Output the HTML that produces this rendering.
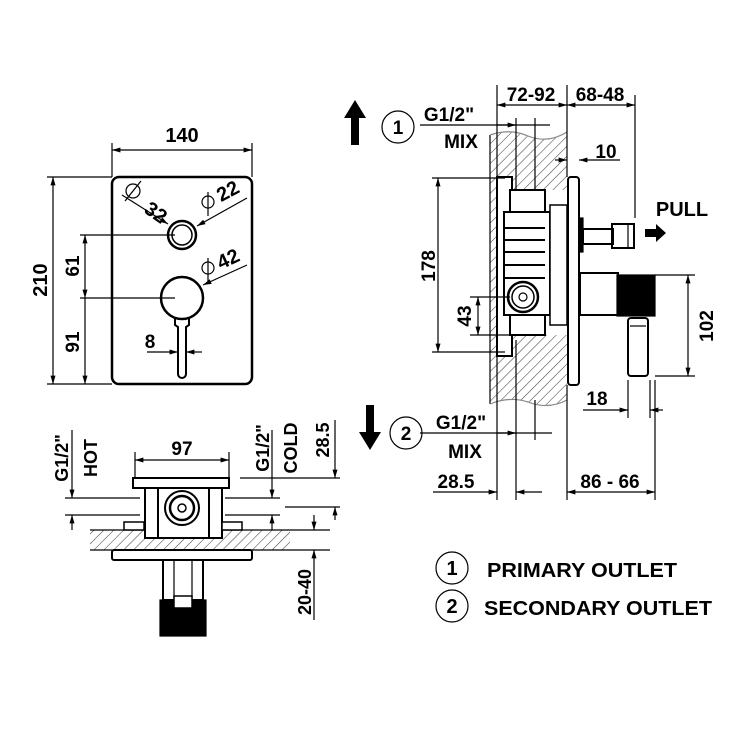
<!DOCTYPE html>
<html><head><meta charset="utf-8"><style>
html,body{margin:0;padding:0;background:#fff}
svg{display:block}
text{font-family:"Liberation Sans",Arial,sans-serif;font-weight:bold;fill:#000}
</style></head><body>
<svg width="750" height="750" viewBox="0 0 750 750" xmlns="http://www.w3.org/2000/svg">
<defs>
<pattern id="h" width="7" height="7" patternUnits="userSpaceOnUse" patternTransform="rotate(45)">
<line x1="0" y1="0" x2="0" y2="7" stroke="#444" stroke-width="1.1"/></pattern>
<marker id="a" viewBox="0 0 10 10" refX="10" refY="5" markerWidth="9" markerHeight="7" orient="auto-start-reverse"><path d="M0,2 L10,5 L0,8 z" fill="#000"/></marker>
</defs>
<g stroke="#000" fill="none" stroke-width="1.2">
<!-- FRONT VIEW -->
<rect x="112" y="177" width="140" height="207" rx="7" stroke-width="2.5"/>
<line x1="112" y1="143" x2="112" y2="177"/><line x1="252" y1="143" x2="252" y2="177"/>
<line x1="112" y1="150" x2="252" y2="150" marker-start="url(#a)" marker-end="url(#a)"/>
<line x1="47" y1="177" x2="112" y2="177"/><line x1="47" y1="384" x2="112" y2="384"/>
<line x1="53" y1="177" x2="53" y2="384" marker-start="url(#a)" marker-end="url(#a)"/>
<line x1="80" y1="235" x2="175" y2="235"/><line x1="80" y1="298" x2="175" y2="298"/>
<line x1="85" y1="235" x2="85" y2="298" marker-start="url(#a)" marker-end="url(#a)"/>
<line x1="85" y1="298" x2="85" y2="384" marker-end="url(#a)"/>
<circle cx="182" cy="235" r="14" stroke-width="2.5"/><circle cx="182" cy="235" r="10" stroke-width="1.5"/>
<circle cx="182" cy="298" r="21" stroke-width="2.5"/>
<path d="M175,318 L175,325 L178,327 L178,374 A4,4 0 0 0 186,374 L186,327 L189,325 L189,318" stroke-width="2"/>
<line x1="147" y1="352" x2="178" y2="352" marker-end="url(#a)"/><line x1="202" y1="352" x2="186" y2="352" marker-end="url(#a)"/>
<circle cx="133" cy="191" r="7"/><line x1="125" y1="201" x2="141" y2="181"/>
<line x1="122" y1="195" x2="168" y2="224" marker-end="url(#a)"/>
<circle cx="208" cy="202" r="6"/><line x1="208" y1="192" x2="208" y2="216"/>
<line x1="247" y1="198" x2="197" y2="226" marker-end="url(#a)"/>
<circle cx="208" cy="268" r="6"/><line x1="208" y1="258" x2="208" y2="282"/>
<line x1="247" y1="265" x2="203" y2="285" marker-end="url(#a)"/>
</g>
<text x="182" y="142" font-size="20" text-anchor="middle">140</text>
<text transform="translate(47,280) rotate(-90)" font-size="20" text-anchor="middle">210</text>
<text transform="translate(79,266) rotate(-90)" font-size="19" text-anchor="middle">61</text>
<text transform="translate(79,342) rotate(-90)" font-size="19" text-anchor="middle">91</text>
<text x="150" y="348" font-size="19" text-anchor="middle">8</text>
<text transform="translate(152,218) rotate(35)" font-size="20" text-anchor="middle">32</text>
<text transform="translate(231,197) rotate(-28)" font-size="20" text-anchor="middle">22</text>
<text transform="translate(231,265) rotate(-25)" font-size="20" text-anchor="middle">42</text>

<!-- BOTTOM VIEW -->
<rect x="90" y="530" width="200" height="20" fill="url(#h)"/>
<g stroke="#000" fill="none" stroke-width="1.2">
<line x1="90" y1="530" x2="290" y2="530"/><line x1="90" y1="550" x2="290" y2="550"/>
<rect x="145" y="488" width="77" height="50" fill="#fff" stroke-width="2"/>
<line x1="158" y1="488" x2="158" y2="538" stroke-width="2"/><line x1="209" y1="488" x2="209" y2="538" stroke-width="2"/>
<rect x="133" y="478" width="96" height="10" fill="#fff" stroke-width="2"/>
<rect x="124" y="522" width="20" height="8" fill="#fff" stroke-width="1.5"/>
<rect x="222" y="522" width="20" height="8" fill="#fff" stroke-width="1.5"/>
<circle cx="182" cy="508" r="17" fill="#fff" stroke-width="2"/><circle cx="182" cy="508" r="12" stroke-width="2.5"/><circle cx="182" cy="508" r="4" stroke-width="1.5"/>
<rect x="112" y="550" width="140" height="10" rx="2" fill="#fff" stroke-width="2"/>
<rect x="163" y="560" width="40" height="40" stroke-width="2"/>
<line x1="174" y1="560" x2="174" y2="598"/><line x1="192" y1="560" x2="192" y2="598"/>
<rect x="160" y="600" width="46" height="36" fill="#000"/>
<rect x="174" y="596" width="18" height="12" fill="#fff" stroke-width="1.5"/>
<line x1="135" y1="460" x2="229" y2="460" marker-start="url(#a)" marker-end="url(#a)"/>
<line x1="135" y1="452" x2="135" y2="478"/><line x1="229" y1="452" x2="229" y2="478"/>
<line x1="65" y1="498" x2="140" y2="498"/><line x1="65" y1="515" x2="140" y2="515"/>
<line x1="72" y1="430" x2="72" y2="498" marker-end="url(#a)"/><line x1="72" y1="530" x2="72" y2="515" marker-end="url(#a)"/>
<line x1="225" y1="498" x2="280" y2="498"/><line x1="225" y1="515" x2="280" y2="515"/>
<line x1="272" y1="430" x2="272" y2="498" marker-end="url(#a)"/><line x1="272" y1="530" x2="272" y2="515" marker-end="url(#a)"/>
<line x1="240" y1="478" x2="340" y2="478"/><line x1="285" y1="507" x2="340" y2="507"/>
<line x1="335" y1="420" x2="335" y2="478" marker-end="url(#a)"/><line x1="335" y1="520" x2="335" y2="507" marker-end="url(#a)"/>
<line x1="290" y1="530" x2="330" y2="530"/><line x1="290" y1="550" x2="330" y2="550"/>
<line x1="314" y1="515" x2="314" y2="530" marker-end="url(#a)"/><line x1="314" y1="620" x2="314" y2="550" marker-end="url(#a)"/>
</g>
<text x="182" y="455" font-size="19" text-anchor="middle">97</text>
<text transform="translate(68,458) rotate(-90)" font-size="18" text-anchor="middle">G1/2"</text>
<text transform="translate(97,458) rotate(-90)" font-size="18" text-anchor="middle">HOT</text>
<text transform="translate(269,448) rotate(-90)" font-size="18" text-anchor="middle">G1/2"</text>
<text transform="translate(297,448) rotate(-90)" font-size="18" text-anchor="middle">COLD</text>
<text transform="translate(329,440) rotate(-90)" font-size="18" text-anchor="middle">28.5</text>
<text transform="translate(311,592) rotate(-90)" font-size="18" text-anchor="middle">20-40</text>

<!-- SIDE VIEW -->
<path d="M490,135 Q510,128 528,136 Q548,144 567,132 L567,400 Q548,410 528,402 Q510,396 490,404 Z" fill="url(#h)" stroke="none"/>
<g stroke="#000" fill="none" stroke-width="1.2">
<line x1="490" y1="135" x2="490" y2="404"/>
<path d="M490,135 Q510,128 528,136 Q548,144 567,132" stroke="#888"/>
<path d="M490,404 Q510,396 528,402 Q548,410 567,400" stroke="#888"/>
<rect x="497" y="190" width="70" height="145" fill="#fff" stroke="none"/>
<rect x="497" y="177" width="15" height="179" fill="#fff" stroke-width="2"/>
<rect x="510" y="190" width="35" height="22" fill="#fff" stroke-width="2"/>
<rect x="510" y="315" width="35" height="20" fill="#fff" stroke-width="2"/>
<rect x="504" y="212" width="46" height="103" fill="#fff" stroke-width="2"/>
<line x1="504" y1="228" x2="545" y2="228" stroke-width="2"/><line x1="504" y1="240" x2="545" y2="240" stroke-width="2"/>
<line x1="504" y1="252" x2="545" y2="252" stroke-width="2"/><line x1="504" y1="265" x2="545" y2="265" stroke-width="2"/>
<line x1="504" y1="278" x2="545" y2="278" stroke-width="2"/>
<rect x="550" y="205" width="17" height="120" fill="#fff" stroke-width="1.5"/>
<circle cx="523" cy="297" r="15" stroke-width="2.5"/><circle cx="523" cy="297" r="11" stroke-width="1.5"/><circle cx="523" cy="297" r="4"/>
<rect x="568" y="177" width="11" height="208" rx="3" fill="#fff" stroke-width="2"/>
<rect x="579" y="218" width="4" height="34" fill="#000"/>
<rect x="583" y="229" width="30" height="15" stroke-width="2"/>
<rect x="612" y="224" width="22" height="24" stroke-width="2"/><line x1="628" y1="224" x2="628" y2="248"/>
<rect x="580" y="273" width="38" height="42" stroke-width="2"/>
<rect x="617" y="275" width="38" height="41" fill="#000"/>
<rect x="628" y="318" width="20" height="58" rx="3" stroke-width="2"/><line x1="630" y1="326" x2="646" y2="326"/>
<line x1="497" y1="85" x2="497" y2="177"/><line x1="567" y1="85" x2="567" y2="177"/><line x1="635" y1="95" x2="635" y2="218"/>
<line x1="497" y1="105" x2="567" y2="105" marker-start="url(#a)" marker-end="url(#a)"/>
<line x1="567" y1="105" x2="635" y2="105" marker-start="url(#a)" marker-end="url(#a)"/>
<line x1="420" y1="125" x2="550" y2="125"/>
<line x1="516" y1="118" x2="516" y2="190"/><line x1="535" y1="118" x2="535" y2="190"/>
<line x1="497" y1="125" x2="516" y2="125" marker-end="url(#a)"/>
<line x1="555" y1="160" x2="567" y2="160" marker-end="url(#a)"/><line x1="620" y1="160" x2="579" y2="160" marker-end="url(#a)"/>
<line x1="432" y1="178" x2="505" y2="178"/><line x1="432" y1="352" x2="505" y2="352"/>
<line x1="438" y1="178" x2="438" y2="352" marker-start="url(#a)" marker-end="url(#a)"/>
<line x1="470" y1="297" x2="510" y2="297"/><line x1="470" y1="335" x2="510" y2="335"/>
<line x1="478" y1="297" x2="478" y2="335" marker-start="url(#a)" marker-end="url(#a)"/>
<line x1="655" y1="275" x2="695" y2="275"/><line x1="655" y1="376" x2="695" y2="376"/>
<line x1="688" y1="275" x2="688" y2="376" marker-start="url(#a)" marker-end="url(#a)"/>
<line x1="628" y1="380" x2="628" y2="418"/><line x1="650" y1="380" x2="650" y2="418"/>
<line x1="583" y1="410" x2="628" y2="410" marker-end="url(#a)"/><line x1="663" y1="410" x2="650" y2="410" marker-end="url(#a)"/>
<line x1="420" y1="433" x2="552" y2="433"/>
<line x1="516" y1="340" x2="516" y2="500"/><line x1="535" y1="400" x2="535" y2="440"/><line x1="497" y1="355" x2="497" y2="500"/>
<line x1="497" y1="433" x2="516" y2="433" marker-end="url(#a)"/>
<line x1="433" y1="492" x2="497" y2="492" marker-end="url(#a)"/><line x1="542" y1="492" x2="516" y2="492" marker-end="url(#a)"/>
<line x1="567" y1="385" x2="567" y2="500"/><line x1="655" y1="380" x2="655" y2="500"/>
<line x1="567" y1="492" x2="655" y2="492" marker-start="url(#a)" marker-end="url(#a)"/>
<circle cx="398" cy="127" r="16"/><circle cx="406" cy="433" r="16"/>
<circle cx="452" cy="568" r="16"/><circle cx="452" cy="606" r="16"/>
</g>
<path d="M355,100 L344,118 L351,118 L351,145 L359,145 L359,118 L366,118 Z" fill="#000"/>
<path d="M370,450 L359,432 L366,432 L366,405 L374,405 L374,432 L381,432 Z" fill="#000"/>
<path d="M645,229 L656,229 L656,224 L666,233 L656,242 L656,237 L645,237 Z" fill="#000"/>
<text x="398" y="134" font-size="19" text-anchor="middle">1</text>
<text x="406" y="440" font-size="19" text-anchor="middle">2</text>
<text x="452" y="575" font-size="20" text-anchor="middle">1</text>
<text x="452" y="613" font-size="20" text-anchor="middle">2</text>
<text x="487" y="577" font-size="20" textLength="190" lengthAdjust="spacingAndGlyphs">PRIMARY OUTLET</text>
<text x="484" y="615" font-size="20" textLength="228" lengthAdjust="spacingAndGlyphs">SECONDARY OUTLET</text>
<text x="449" y="121" font-size="19" text-anchor="middle">G1/2"</text>
<text x="461" y="148" font-size="19" text-anchor="middle">MIX</text>
<text x="461" y="429" font-size="19" text-anchor="middle">G1/2"</text>
<text x="465" y="458" font-size="19" text-anchor="middle">MIX</text>
<text x="531" y="101" font-size="19" text-anchor="middle">72-92</text>
<text x="600" y="101" font-size="19" text-anchor="middle">68-48</text>
<text x="606" y="158" font-size="19" text-anchor="middle">10</text>
<text x="682" y="216" font-size="20" text-anchor="middle">PULL</text>
<text transform="translate(435,266) rotate(-90)" font-size="19" text-anchor="middle">178</text>
<text transform="translate(471,316) rotate(-90)" font-size="19" text-anchor="middle">43</text>
<text transform="translate(713,326) rotate(-90)" font-size="19" text-anchor="middle">102</text>
<text x="597" y="405" font-size="19" text-anchor="middle">18</text>
<text x="456" y="488" font-size="19" text-anchor="middle">28.5</text>
<text x="610" y="488" font-size="19" text-anchor="middle">86 - 66</text>
</svg>
</body></html>
